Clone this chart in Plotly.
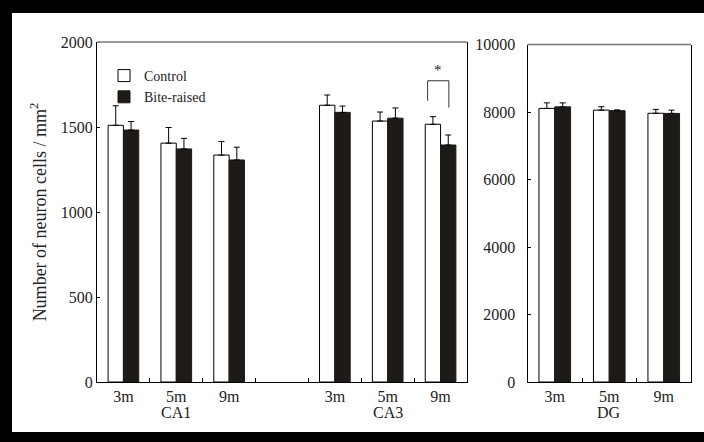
import plotly.graph_objects as go

# ---- data ----
ages = ["3m", "5m", "9m"]
left_regions = ["CA1", "CA3"]
right_region = "DG"
series_names = ["Control", "Bite-raised"]

ca1_control = [1510, 1405, 1335]
ca1_control_err = [115, 92, 80]
ca1_bite = [1482, 1371, 1306]
ca1_bite_err = [50, 62, 75]

ca3_control = [1628, 1535, 1516]
ca3_control_err = [60, 53, 45]
ca3_bite = [1586, 1552, 1394]
ca3_bite_err = [37, 60, 59]

dg_control = [8106, 8056, 7962]
dg_control_err = [165, 100, 115]
dg_bite = [8152, 8040, 7958]
dg_bite_err = [118, 22, 98]

left_ticks = [0, 500, 1000, 1500, 2000]
right_ticks = [0, 2000, 4000, 6000, 8000, 10000]

# ---- layout helpers ----
W, H = 704, 442
ML, MR, MT, MB = 97, 13, 42, 60
PW, PH = W - ML - MR, H - MT - MB

def px_x(p):
    return (p - ML) / PW

def px_y(p):
    return (H - MB - p) / PH

# slot positions (one empty slot between CA1 and CA3)
left_x = list(range(len(ages))) + [i + len(ages) + 1 for i in range(len(ages))]
right_x = list(range(len(ages)))

FONT = "Liberation Serif"
BLACK = "#1e1a18"
TXT = "#222"

fig = go.Figure()

fig.add_trace(go.Bar(
    x=left_x, y=ca1_control + ca3_control, name=series_names[0],
    marker=dict(color="white", line=dict(color="black", width=1)),
    error_y=dict(type="data", symmetric=False, array=ca1_control_err + ca3_control_err,
                 arrayminus=[0] * 6, color="black", thickness=1, width=3),
    xaxis="x", yaxis="y", legendgroup="c"))
fig.add_trace(go.Bar(
    x=left_x, y=ca1_bite + ca3_bite, name=series_names[1],
    marker=dict(color=BLACK, line=dict(color=BLACK, width=1)),
    error_y=dict(type="data", symmetric=False, array=ca1_bite_err + ca3_bite_err,
                 arrayminus=[0] * 6, color="black", thickness=1, width=3),
    xaxis="x", yaxis="y", legendgroup="b"))
fig.add_trace(go.Bar(
    x=right_x, y=dg_control, name=series_names[0], showlegend=False,
    marker=dict(color="white", line=dict(color="black", width=1)),
    error_y=dict(type="data", symmetric=False, array=dg_control_err,
                 arrayminus=[0] * 3, color="black", thickness=1, width=3),
    xaxis="x2", yaxis="y2", legendgroup="c"))
fig.add_trace(go.Bar(
    x=right_x, y=dg_bite, name=series_names[1], showlegend=False,
    marker=dict(color=BLACK, line=dict(color=BLACK, width=1)),
    error_y=dict(type="data", symmetric=False, array=dg_bite_err,
                 arrayminus=[0] * 3, color="black", thickness=1, width=3),
    xaxis="x2", yaxis="y2", legendgroup="b"))

right_mid = [x + 0.5 for x in range(len(right_x) - 1)]

axis_common = dict(showgrid=False, zeroline=False, linecolor="black", linewidth=1,
                   tickfont=dict(family=FONT, size=16, color=TXT))

fig.update_layout(
    width=W, height=H,
    margin=dict(l=ML, r=MR, t=MT, b=MB),
    paper_bgcolor="white", plot_bgcolor="white",
    barmode="group", bargap=0.42, bargroupgap=0,
    font=dict(family=FONT, color=TXT),
    showlegend=True,
    legend=dict(x=px_x(104), y=px_y(60), xanchor="left", yanchor="top",
                bgcolor="rgba(0,0,0,0)", font=dict(family=FONT, size=14, color=TXT),
                itemwidth=30, tracegroupgap=0),
    xaxis=dict(domain=[0, px_x(467)], range=[-0.5, 6.5], anchor="y",
               tickmode="array", tickvals=left_x, ticktext=ages * 2, ticks="",
               minor=dict(tickmode="array", tickvals=[0.5, 1.5, 2.5, 3.5, 4.5, 5.5],
                          ticks="inside", ticklen=4, tickcolor="black"),
               showline=True, **axis_common),
    yaxis=dict(domain=[0, 1], range=[0, 2000], anchor="x",
               tickmode="array", tickvals=left_ticks, ticks="inside", ticklen=3,
               tickcolor="black", showline=True, mirror=True, tickformat="d",
               title=dict(text="Number of neuron cells / mm<sup>2</sup>",
                          font=dict(family=FONT, size=18, color=TXT), standoff=9),
               **axis_common),
    xaxis2=dict(domain=[px_x(527.5), 1], range=[-0.5, 2.5], anchor="y2",
                tickmode="array", tickvals=right_x, ticktext=ages, ticks="",
                minor=dict(tickmode="array", tickvals=right_mid,
                           ticks="inside", ticklen=4, tickcolor="black"),
                showline=True, **axis_common),
    yaxis2=dict(domain=[0, px_y(44.5)], range=[0, 10000], anchor="x2",
                tickmode="array", tickvals=right_ticks, ticks="inside", ticklen=3,
                tickcolor="black", showline=True, mirror=True, ticklabelstandoff=8,
                tickformat="d", **axis_common),
)

# top border lines of both panels (grey)
for xr, yr in [("x domain", "y domain"), ("x2 domain", "y2 domain")]:
    fig.add_shape(type="line", xref=xr, yref=yr, x0=0, x1=1, y0=1, y1=1,
                  line=dict(color="#777", width=1.5))

# group labels
group_y = px_y(413)
for gx, name in zip([1, 5], left_regions):
    fig.add_annotation(x=gx, y=group_y, xref="x", yref="paper", text=name,
                       showarrow=False, yanchor="middle",
                       font=dict(family=FONT, size=16, color=TXT))
fig.add_annotation(x=1, y=group_y, xref="x2", yref="paper", text=right_region,
                   showarrow=False, yanchor="middle",
                   font=dict(family=FONT, size=16, color=TXT))

# significance bracket for CA3 9m
bx0, bx1 = 5.755, 6.157
fig.add_shape(type="path", xref="x", yref="y",
              path=f"M {bx0},1655 L {bx0},1772 L {bx1},1772 L {bx1},1614",
              line=dict(color="#333", width=1))
fig.add_annotation(x=(bx0 + bx1) / 2, y=1835, xref="x", yref="y", text="*",
                   showarrow=False, font=dict(family=FONT, size=15, color=TXT))

# black frame around the image (top, left, bottom)
frame = [(0, 0, W, 13), (0, 0, 12, H), (0, 432, W, H)]
for x0, y0, x1, y1 in frame:
    fig.add_shape(type="rect", xref="paper", yref="paper",
                  x0=px_x(x0), x1=px_x(x1), y0=px_y(y1), y1=px_y(y0),
                  fillcolor="black", line=dict(width=0), layer="above")

fig.write_html("out.html")
